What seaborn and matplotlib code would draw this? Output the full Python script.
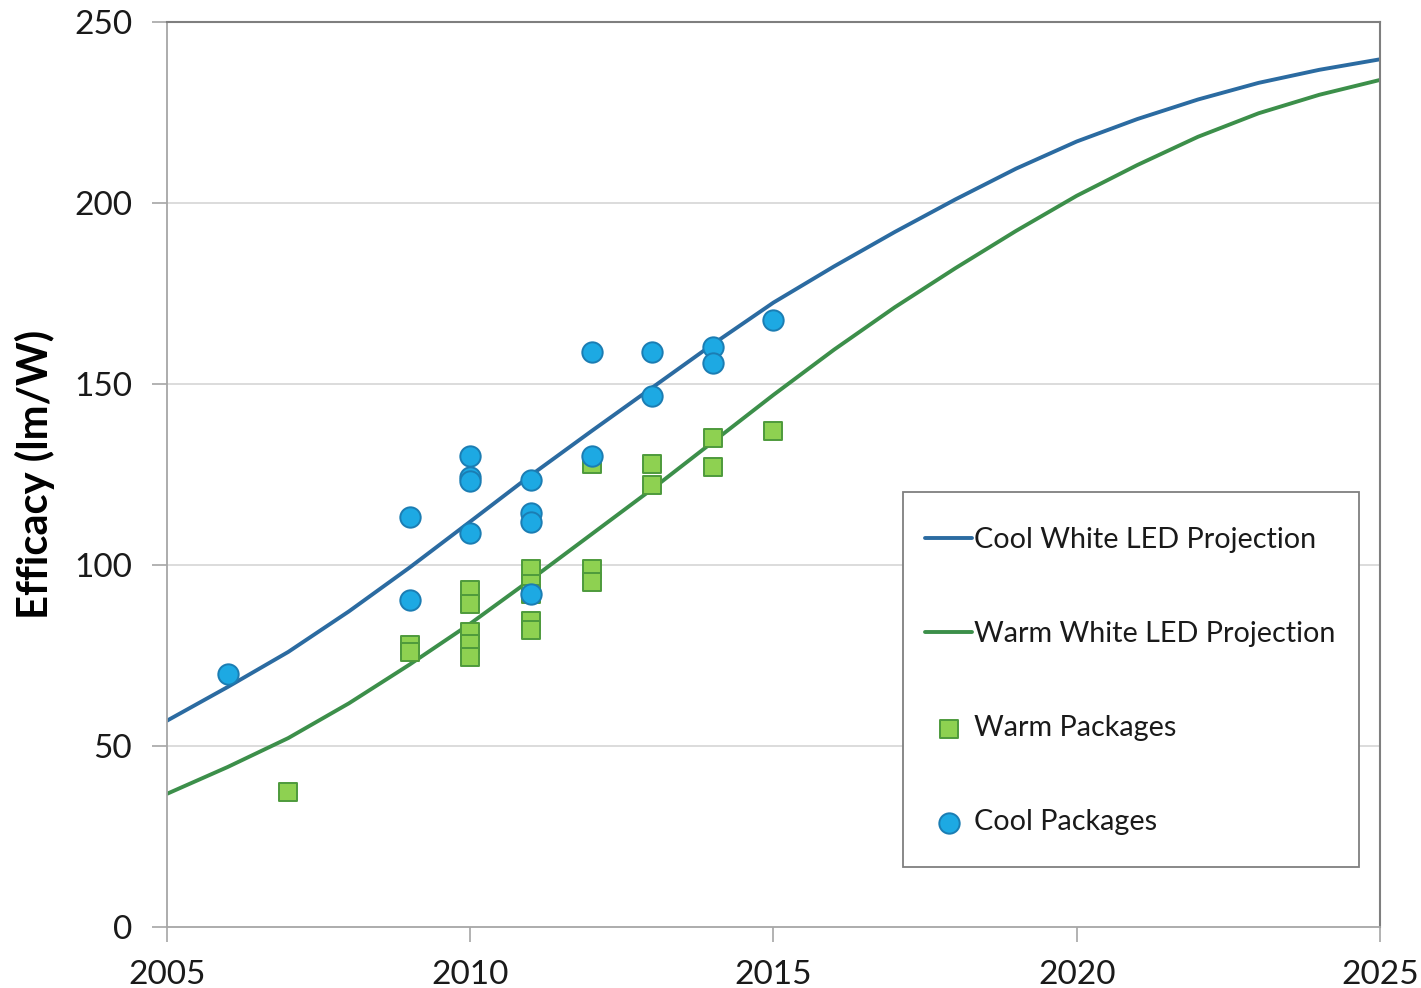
import matplotlib
matplotlib.use("Agg")
import matplotlib.pyplot as plt
from matplotlib.patches import Rectangle
import seaborn as sns
import pandas as pd

# Projection curves (lm/W by year)
proj_years = list(range(2005, 2026))
cool_proj = [57.0, 66.3, 76.0, 87.2, 99.3, 112.0, 124.8, 137.0, 149.0, 161.0, 172.5,
             182.5, 192.0, 201.0, 209.5, 217.0, 223.2, 228.6, 233.2, 236.8, 239.7]
warm_proj = [36.8, 44.2, 52.2, 61.8, 72.5, 83.8, 96.0, 108.5, 121.0, 134.0, 147.0,
             159.5, 171.2, 182.0, 192.3, 202.0, 210.5, 218.3, 224.8, 229.9, 234.0]

# Measured packages
cool_years = [2006, 2009, 2009, 2010, 2010, 2010, 2010, 2011, 2011, 2011, 2011,
              2012, 2012, 2013, 2013, 2014, 2014, 2015]
cool_eff = [70.0, 113.4, 90.4, 130.2, 124.3, 123.3, 108.8, 123.5, 114.4, 111.8, 91.9,
            158.8, 130.2, 158.8, 146.8, 160.1, 155.7, 167.8]

warm_years = [2007, 2009, 2009, 2010, 2010, 2010, 2010, 2010,
              2011, 2011, 2011, 2011, 2011, 2012, 2012, 2012,
              2013, 2013, 2014, 2014, 2015]
warm_eff = [37.3, 78.0, 76.0, 93.0, 89.3, 81.5, 78.3, 74.6,
            98.8, 94.8, 92.1, 84.5, 82.0, 128.0, 99.0, 95.4,
            128.0, 122.0, 135.0, 127.0, 137.0]

x_ticks = [2005, 2010, 2015, 2020, 2025]
y_ticks = [0, 50, 100, 150, 200, 250]

labels = ["Cool White LED Projection", "Warm White LED Projection",
          "Warm Packages", "Cool Packages"]

proj_df = pd.DataFrame({"year": proj_years, "cool": cool_proj, "warm": warm_proj})
cool_df = pd.DataFrame({"year": cool_years, "eff": cool_eff})
warm_df = pd.DataFrame({"year": warm_years, "eff": warm_eff})

sns.set_theme(style="white")
plt.rcParams["font.family"] = ["Lato", "DejaVu Sans"]

fig = plt.figure(figsize=(14.21, 9.88), dpi=100)
ax = fig.add_axes([0.1175, 0.0617, 0.8536, 0.916])

for v in y_ticks[1:-1]:
    ax.axhline(v, color="#D9D9D9", lw=1.3, zorder=0)

sns.lineplot(data=proj_df, x="year", y="cool", ax=ax, color="#2B6BA1",
             lw=2.8, label=labels[0], zorder=2)
sns.lineplot(data=proj_df, x="year", y="warm", ax=ax, color="#3C8F4A",
             lw=2.8, label=labels[1], zorder=2)
sns.scatterplot(data=warm_df, x="year", y="eff", ax=ax, marker="s", s=180,
                color="#8ED151", edgecolor="#4E9A3C", linewidth=1.4,
                label=labels[2], zorder=3)
sns.scatterplot(data=cool_df, x="year", y="eff", ax=ax, marker="o", s=215,
                color="#1DA9E3", edgecolor="#1B7DB3", linewidth=1.4,
                label=labels[3], zorder=4)

ax.set_xlim(2005, 2025)
ax.set_ylim(0, 250)
ax.set_xticks(x_ticks)
ax.set_yticks(y_ticks)
ax.set_xticklabels([str(t) for t in x_ticks])
ax.set_yticklabels([str(t) for t in y_ticks])
ax.tick_params(axis="both", direction="out", length=11, width=1.2,
               color="#A6A6A6", labelsize=24, labelcolor="#1A1A1A")
ax.tick_params(axis="y", pad=14, left=True)
ax.tick_params(axis="x", pad=13, bottom=True)

ax.set_xlabel("")
ax.set_ylabel("Efficacy (lm/W)", fontsize=30, fontweight="bold",
              color="#000000", labelpad=14)

for side in ["left", "bottom"]:
    ax.spines[side].set_color("#A6A6A6")
    ax.spines[side].set_linewidth(1.3)
for side in ["top", "right"]:
    ax.spines[side].set_color("#7F7F7F")
    ax.spines[side].set_linewidth(1.5)

# Legend box drawn separately so its padding can differ per side
box = Rectangle((0.6068, 0.0663), 0.3759, 0.4144, transform=ax.transAxes,
                facecolor="white", edgecolor="#7F7F7F", linewidth=1.3,
                zorder=5)
ax.add_patch(box)

handles, lbls = ax.get_legend_handles_labels()
order = [lbls.index(l) for l in labels]
leg = ax.legend([handles[i] for i in order], [lbls[i] for i in order],
                loc="upper left", bbox_to_anchor=(0.6249, 0.442),
                borderaxespad=0, fontsize=20.7, frameon=False,
                labelspacing=2.37, borderpad=0,
                handlelength=1.65, handletextpad=0.05, markerscale=1.0)
leg.set_zorder(6)
for t in leg.get_texts():
    t.set_color("#1A1A1A")

fig.savefig("out.png", dpi=100)
